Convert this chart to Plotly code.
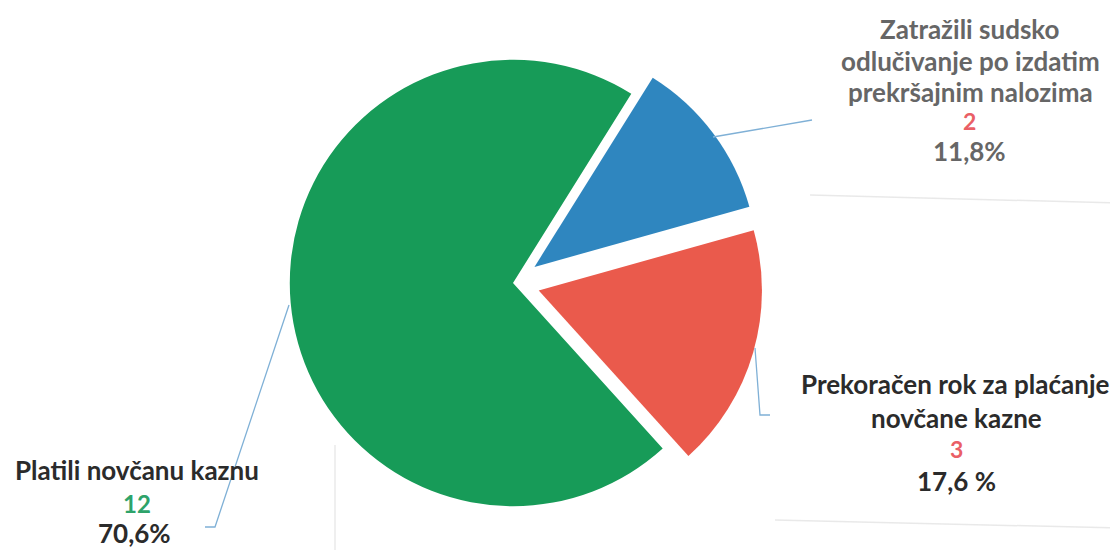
import plotly.graph_objects as go

# Data
categories = ["Zatražili sudsko odlučivanje po izdatim prekršajnim nalozima",
              "Prekoračen rok za plaćanje novčane kazne",
              "Platili novčanu kaznu"]
counts = [2, 3, 12]
percent_labels = ["11,8%", "17,6 %", "70,6%"]
colors = ["#2f86bf", "#ea5a4c", "#179b58"]
pulls = [0.12, 0.12, 0.0]

# The page has an 8px body margin; the figure fills the rest of the window.
OFF = 8
W, H = 1118 - OFF, 550 - OFF

def px(x):
    return (x - OFF) / W

def py(y):
    return 1 - (y - OFF) / H

CX, CY, HALF = 513, 283, 250

fig = go.Figure(go.Pie(
    labels=categories, values=counts, sort=False, direction="clockwise",
    rotation=32, pull=pulls, textinfo="none", hoverinfo="label+value+percent",
    marker=dict(colors=colors, line=dict(width=0)), showlegend=False,
    domain=dict(x=[px(CX - HALF), px(CX + HALF)], y=[py(CY + HALF), py(CY - HALF)]),
))

font_family = "Lato"
dark = "#2b2b2b"
gray = "#666666"
pink = "#ea5f66"
green_txt = "#2ea36a"

ann = []

def line(text, x, y, color, size=26):
    ann.append(dict(text=text, x=px(x), y=py(y), xref="paper", yref="paper",
                    showarrow=False, xanchor="center", yanchor="middle",
                    font=dict(family=font_family, size=size, color=color, weight="bold")))

# Top-right label (blue slice)
line("Zatražili sudsko", 970, 29, gray)
line("odlučivanje po izdatim", 970, 61, gray)
line("prekršajnim nalozima", 970, 92, gray)
line(str(counts[0]), 969, 121, pink, 23)
line(percent_labels[0], 969, 151, gray)

# Right label (red slice)
line("Prekoračen rok za plaćanje", 955, 384, dark)
line("novčane kazne", 956, 418, dark)
line(str(counts[1]), 956, 449, pink, 23)
line(percent_labels[1], 956, 481, dark)

# Left label (green slice)
line("Platili novčanu kaznu", 137, 470, dark)
line(str(counts[2]), 137, 503, green_txt, 24)
line(percent_labels[2], 134, 533, dark)

fig.update_layout(annotations=ann)

shapes = []

def seg(pts, color="#7fb0d6", width=1.3):
    path = "M " + " L ".join(f"{px(x)},{py(y)}" for x, y in pts)
    shapes.append(dict(type="path", path=path, xref="paper", yref="paper",
                       line=dict(color=color, width=width)))

# Leader lines
seg([(289, 305), (215, 527), (205, 527)])
seg([(713, 137), (812, 120)])
seg([(755, 348), (760, 415), (770, 415)])

# Faint scan lines
faint = "rgba(200,200,200,0.4)"
seg([(810, 195), (1118, 203)], faint, 1.5)
seg([(775, 520), (1118, 528)], faint, 1.5)
seg([(335, 445), (335, 550)], faint, 1.5)

fig.update_layout(shapes=shapes, width=W, height=H,
                  margin=dict(l=0, r=0, t=0, b=0),
                  paper_bgcolor="white", plot_bgcolor="white")

fig.write_html("out.html")
